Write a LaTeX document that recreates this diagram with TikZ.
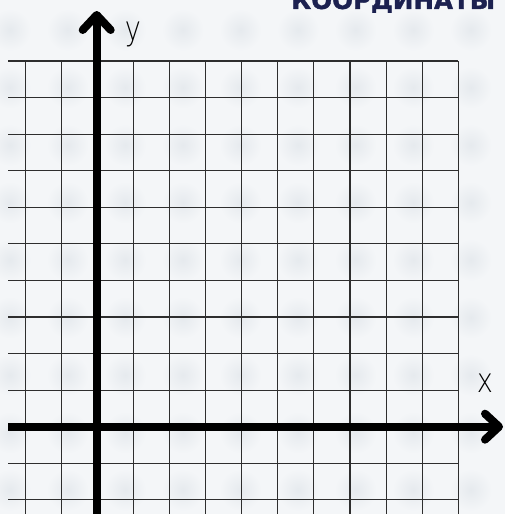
\documentclass[tikz,border=0pt]{standalone}
\usepackage{fontspec}
\usepackage{graphicx}
\setmainfont{DejaVu Sans}
\newfontfamily\titlefont{DejaVu Sans Bold}[FakeBold=1.5]
\newfontfamily\lightfont{DejaVu Sans ExtraLight}
\definecolor{bgc}{HTML}{F4F6F8}
\definecolor{dotc}{HTML}{E6EAEE}
\definecolor{gridc}{HTML}{2E2E2E}
\definecolor{navy}{HTML}{1C2150}
\tikzset{
  gridline/.style={draw=gridc, line width=1.1pt},
  axisline/.style={draw=black, line width=8pt, line cap=round, line join=round},
  axlabel/.style={inner sep=0pt, font=\lightfont\fontsize{34}{34}\selectfont},
}
\begin{document}
\begin{tikzpicture}[x=1pt,y=-1pt]
\useasboundingbox (0,0) rectangle (505,514);
\clip (0,0) rectangle (505,514);
\fill[bgc] (0,0) rectangle (505,514);
% faint dots
\foreach \i in {0,...,9}{
  \foreach \j in {0,...,9}{
    \shade[inner color=dotc, outer color=bgc] ({10+57.6*\i},{30+57.5*\j}) circle (21);
  }
}
% grid
\foreach \i in {0,...,12}{
  \draw[gridline] ({25.3+36.08*\i},61) -- ({25.3+36.08*\i},520);
}
\foreach \j in {0,...,12}{
  \draw[gridline] (8,{61+36.57*\j}) -- (458.3,{61+36.57*\j});
}
% axes
\coordinate (ybot) at (96.7,520);
\coordinate (ytip) at (96.7,15);
\coordinate (xleft) at (8,426.7);
\coordinate (xtip) at (499,426.7);
\draw[axisline, line cap=butt] (ybot) -- (ytip);
\draw[axisline] (ytip) ++(-14,15) -- (ytip) -- ++(14,15);
\draw[axisline, line cap=butt] (xleft) -- (xtip);
\draw[axisline] (xtip) ++(-14,-13) -- (xtip) -- ++(-14,13);
% labels
\node[axlabel, anchor=center] (ylab) at (133,34) {\scalebox{0.8}[1]{y}};
\node[axlabel, anchor=center] (xlab) at (485,383.5) {\scalebox{0.8}[1]{x}};
% title
\node[anchor=south west, inner sep=0pt, text=navy] (title) at (291,13)
  {\resizebox{204pt}{!}{\titlefont КООРДИНАТЫ}};
\end{tikzpicture}
\end{document}
